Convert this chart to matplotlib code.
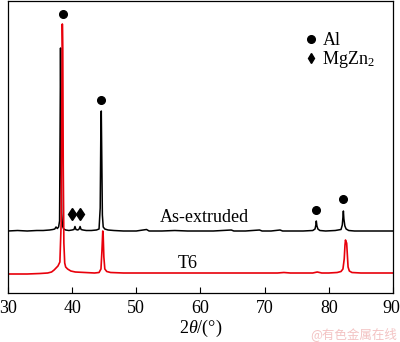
import matplotlib
matplotlib.use("Agg")
import matplotlib.pyplot as plt
from matplotlib.lines import Line2D
from matplotlib.transforms import ScaledTranslation

plt.rcParams['font.family'] = ['Liberation Serif', 'DejaVu Serif']
plt.rcParams['mathtext.fontset'] = 'custom'
plt.rcParams['mathtext.rm'] = 'Liberation Serif'
plt.rcParams['mathtext.it'] = 'Liberation Serif:italic'

# As-extruded pattern (offset intensity, a.u.)
ext_x = [30, 31.5, 33, 34.5, 35.5, 36.5, 37.0, 37.3, 37.5, 37.7, 37.9, 38.05, 38.12, 38.2, 38.28,
         38.38, 38.5, 38.7, 39.0, 39.5, 40.0, 40.3, 40.45, 40.6, 40.9, 41.1, 41.25, 41.4, 41.7,
         42.2, 43.0, 43.8, 44.2, 44.38, 44.47, 44.55, 44.63, 44.72, 44.85, 45.1, 45.6, 46.5, 48,
         50, 51.6, 52, 54, 56, 58, 60, 62, 64.8, 65.2, 67, 69.2, 69.6, 71, 72.4, 72.8, 74, 76,
         77.5, 77.85, 77.98, 78.05, 78.15, 78.3, 78.6, 79.5, 81.0, 81.9, 82.1, 82.2, 82.27, 82.35,
         82.5, 82.7, 83.1, 84, 86, 88, 90]
ext_y = [62, 62.5, 62, 62.5, 62.5, 63, 63.5, 64, 66, 64.5, 66, 72, 150, 245, 160,
         80, 67, 64, 63, 62.5, 63, 63.5, 66.5, 63.5, 63, 64, 66.5, 63.5, 63,
         62.5, 62.5, 63, 64, 85, 155, 182, 135, 78, 66, 64, 63, 62.5, 62,
         62, 63.5, 62, 62, 62.5, 62, 62, 62, 63, 62, 62, 63, 62, 62, 63, 62, 62, 62,
         62.5, 64, 68, 72, 67, 64, 62.5, 62, 62.5, 63.5, 68, 76, 82, 74,
         67, 64, 62.5, 62, 62, 62, 62]

# T6 pattern
t6_x = [30, 33, 35, 36.2, 36.8, 37.2, 37.5, 37.8, 38.1, 38.3, 38.4, 38.48, 38.55, 38.62, 38.72,
        38.85, 39.0, 39.3, 39.8, 40.5, 42, 43.5, 44.2, 44.5, 44.65, 44.78, 44.85, 44.95, 45.1,
        45.4, 46, 48, 52, 56, 60, 64, 68, 72, 73, 74, 77.5, 78.2, 78.9, 80, 81.3, 81.9, 82.2,
        82.4, 82.52, 82.6, 82.68, 82.78, 82.88, 83.0, 83.2, 83.6, 85, 88, 90]
t6_y = [19, 19, 19.5, 20, 21, 23, 25, 27, 31, 70, 190, 269, 245, 130, 50,
        30, 26, 24, 22, 21, 20.5, 20, 20.5, 24, 42, 62, 57, 36, 24,
        21.5, 20.5, 20, 20, 20, 20, 20, 20, 20, 20.5, 20, 20, 21, 20, 20, 20.5, 21.5, 24,
        34, 48, 53, 51, 50, 39, 26, 22, 20.5, 20, 20, 20]

# phase markers
al_x = [38.55, 44.57, 78.0, 82.2]
al_y = [279, 193, 83, 94]
mg_x = [40.0, 41.3]
mg_y = [79, 79]

xticks = [30, 40, 50, 60, 70, 80, 90]

fig = plt.figure(figsize=(4.0, 3.42), dpi=100)
ax = fig.add_axes([7.9/400, 1 - 293/342, (393 - 7.9)/400, 292/342])

ax.plot(ext_x, ext_y, color='black', lw=1.1)
ax.plot(t6_x, t6_y, color='#e8000b', lw=1.2)
ax.plot(al_x, al_y, 'o', color='black', ms=5.5)
ax.plot(mg_x, mg_y, 'd', color='black', ms=6.5)

ax.text(60.65, 71, 'As-extruded', ha='center', va='baseline', fontsize=13)
ax.text(58.0, 25, 'T6', ha='center', va='baseline', fontsize=13)

handles = [Line2D([], [], ls='none', marker='o', color='black', ms=5.5),
           Line2D([], [], ls='none', marker='d', color='black', ms=5.5)]
ax.legend(handles, ['Al', r'MgZn$_2$'], loc='upper left', bbox_to_anchor=(0.772, 0.893),
          frameon=False, fontsize=13, handlelength=0.6, handletextpad=0.35,
          borderpad=0, labelspacing=0.0, borderaxespad=0)

ax.set_xlim(30, 90)
ax.set_ylim(0, 292)
ax.set_xticks(xticks)
ax.set_yticks([])
ax.tick_params(axis='x', direction='in', length=4, width=0.8, labelsize=13, pad=5)
ax.set_xlabel(r'$2\theta$/(°)', fontsize=13, labelpad=1)
for s in ax.spines.values():
    s.set_linewidth(0.9)

fig.canvas.draw()
lab = ax.get_xticklabels()[-1]
lab.set_transform(lab.get_transform() + ScaledTranslation(-2/100, 0, fig.dpi_scale_trans))

fig.text(0.9925, 0.023, '@有色金属在线', ha='right', va='center', fontsize=9,
         color='#f3c3c3', family=['Noto Sans CJK SC', 'DejaVu Sans'])

fig.savefig('out.png', dpi=100)
